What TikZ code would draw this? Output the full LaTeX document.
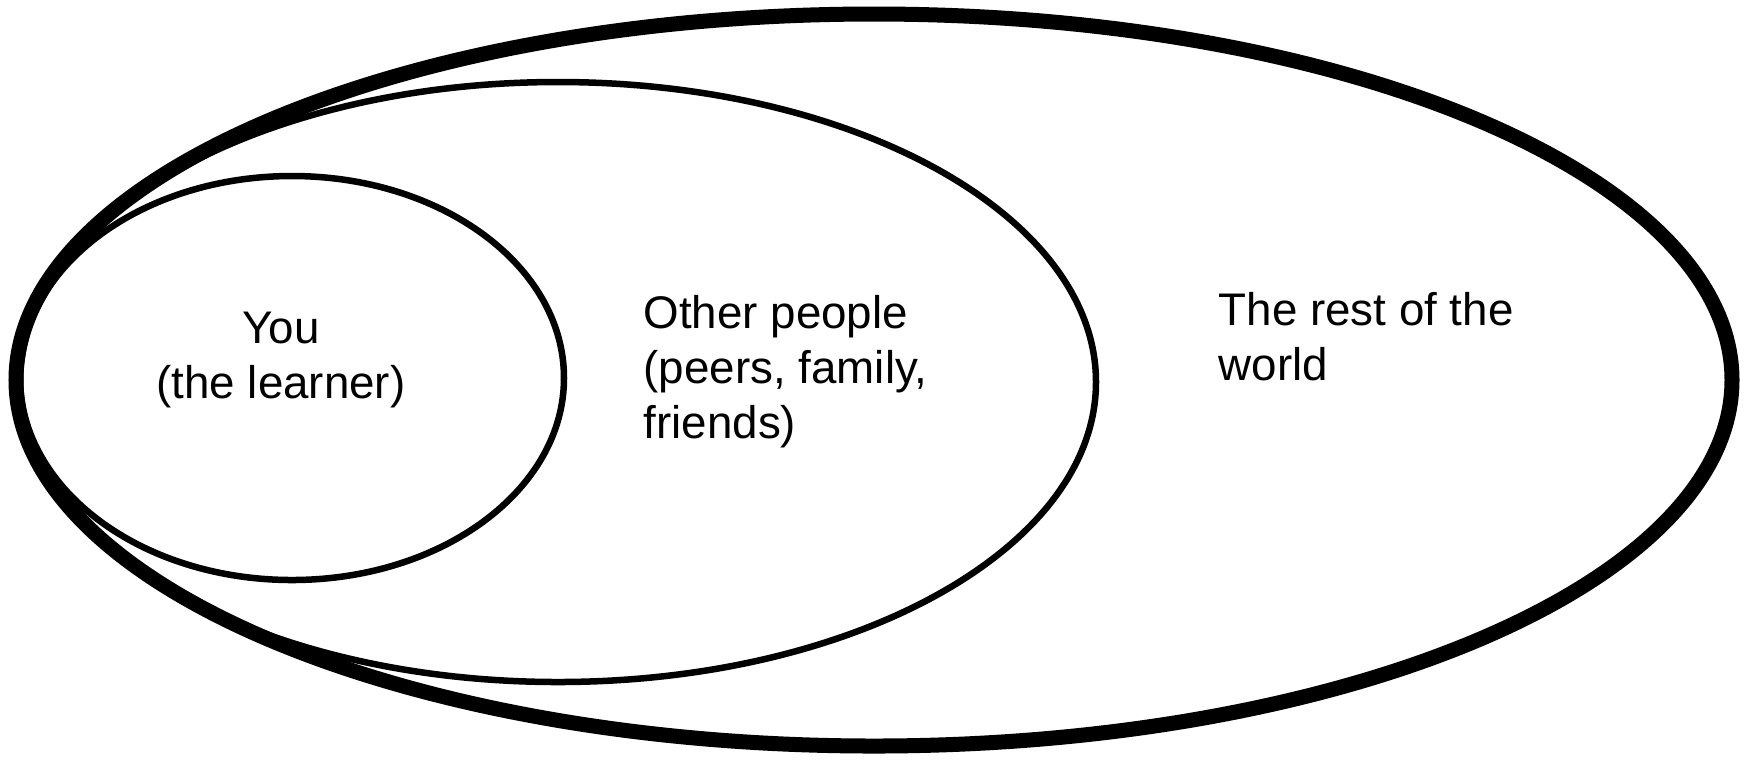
\documentclass[tikz,border=0pt]{standalone}
\usepackage{fontspec}
\setmainfont{Liberation Sans}
\begin{document}
\begin{tikzpicture}[x=0.01cm,y=-0.01cm,
  outerring/.style={draw=black,line width=0.15cm},
  innerring/.style={draw=black,line width=0.065cm},
  lbl/.style={inner sep=0pt,font=\fontsize{13}{15.6}\selectfont}]
\useasboundingbox (0,0) rectangle (1754,759);
\draw[outerring] (874,380) ellipse [x radius=858, y radius=366];
\draw[innerring] (558,382) ellipse [x radius=538, y radius=300];
\draw[innerring] (292,378) ellipse [x radius=272, y radius=202];
\node[lbl,align=center,anchor=base] (you) at (281,398) {You\\(the learner)};
\node[lbl,align=left,anchor=base west] (other) at (643,438) {Other people\\(peers, family,\\friends)};
\node[lbl,align=left,anchor=base west] (rest) at (1218,380) {The rest of the\\world};
\end{tikzpicture}
\end{document}
